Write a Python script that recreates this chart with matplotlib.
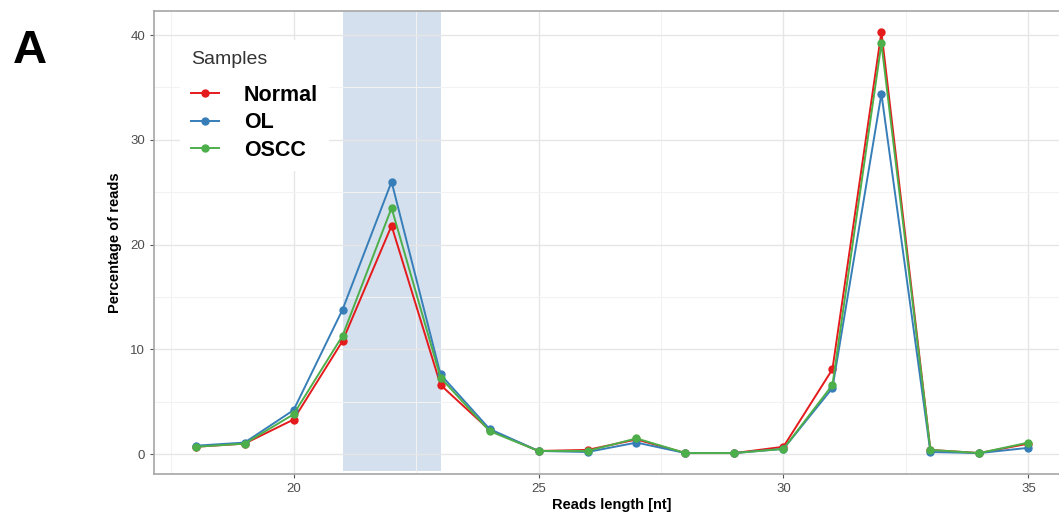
import numpy as np
import matplotlib
matplotlib.use('Agg')
import matplotlib.pyplot as plt
from matplotlib.ticker import MultipleLocator

# read length distribution (% of reads) per sample group
read_length = [18, 19, 20, 21, 22, 23, 24, 25, 26, 27, 28, 29, 30, 31, 32, 33, 34, 35]
normal = [0.7, 1.0, 3.3, 10.8, 21.8, 6.6, 2.3, 0.3, 0.4, 1.4, 0.1, 0.1, 0.7, 8.1, 40.3, 0.4, 0.1, 1.0]
ol = [0.8, 1.1, 4.2, 13.8, 26.0, 7.6, 2.4, 0.3, 0.2, 1.1, 0.1, 0.1, 0.5, 6.3, 34.4, 0.2, 0.1, 0.6]
oscc = [0.7, 1.0, 3.8, 11.3, 23.5, 7.3, 2.2, 0.3, 0.3, 1.5, 0.1, 0.1, 0.5, 6.6, 39.2, 0.4, 0.1, 1.1]
samples = ['Normal', 'OL', 'OSCC']
colors = ['#E41A1C', '#377EB8', '#4DAF4A']
mirna_range = (21, 23)

plt.rcParams['font.family'] = ['Liberation Sans', 'DejaVu Sans']

fig = plt.figure(figsize=(10.59, 5.14), dpi=100)
ax = fig.add_axes([0.1454, 0.0778, 0.865, 0.9008])

# shaded miRNA length window
ax.axvspan(mirna_range[0], mirna_range[1], ymin=0.006, ymax=1, color='#d4e0ed', zorder=0.2, lw=0)

for name, vals, c in zip(samples, [normal, ol, oscc], colors):
    ax.plot(read_length, vals, '-o', color=c, lw=1.4, ms=5, label=name, zorder=3)

ax.set_xlim(17.15, 35.85)
ax.set_ylim(-1.9, 42.3)
ax.xaxis.set_major_locator(MultipleLocator(5))
ax.xaxis.set_minor_locator(MultipleLocator(2.5))
ax.yaxis.set_major_locator(MultipleLocator(10))
ax.yaxis.set_minor_locator(MultipleLocator(5))
ax.set_axisbelow(True)
ax.grid(which='major', color='#e6e6e6', lw=1.0)
ax.grid(which='minor', color='#f2f2f2', lw=0.8)
ax.tick_params(which='minor', length=0)
ax.tick_params(which='major', length=3, color='#555555', labelcolor='#4d4d4d', labelsize=9.5, width=0.8)
for s in ax.spines.values():
    s.set_color('#a6a6a6')
    s.set_linewidth(1.2)

ax.set_xlabel('Reads length [nt]', fontsize=10.5, fontweight='bold', labelpad=2)
ax.set_ylabel('Percentage of reads', fontsize=10.5, fontweight='bold', labelpad=6)

leg = ax.legend(loc='upper left', bbox_to_anchor=(0.017, 0.96), title='Samples',
                frameon=True, facecolor='white', edgecolor='none', framealpha=1,
                prop={'size': 15.5, 'weight': 'bold'}, title_fontsize=14,
                handlelength=1.3, handletextpad=1.15, labelspacing=0.3, borderpad=0.5)
leg._legend_box.align = 'left'
leg._legend_box.sep = 12
leg.get_title().set_color('#333333')

fig.text(0.012, 0.9, 'A', fontsize=34, fontweight='bold', ha='left', va='center')

fig.savefig('out.png', dpi=100)
